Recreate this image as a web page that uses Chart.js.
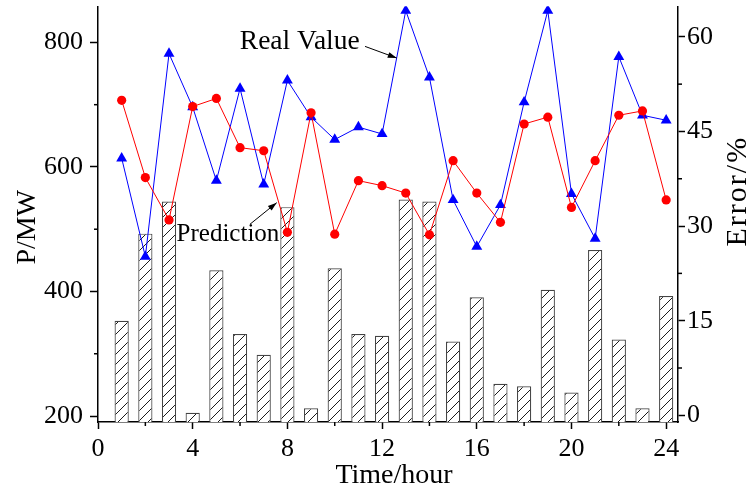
<!DOCTYPE html>
<html>
<head>
<meta charset="utf-8">
<script src="https://cdn.jsdelivr.net/npm/chart.js@4.4.0/dist/chart.umd.min.js"></script>
<style>
  html, body { margin: 0; padding: 0; background: #fff; }
  #wrap { width: 749px; height: 490px; }
</style>
</head>
<body>
<div id="wrap"><canvas id="grafico" width="749" height="490"></canvas></div>
<script>
// Datos (hora 1..24)
const HORAS = [1, 2, 3, 4, 5, 6, 7, 8, 9, 10, 11, 12, 13, 14, 15, 16, 17, 18, 19, 20, 21, 22, 23, 24];
const VALOR_REAL = [614, 456, 782, 696, 578, 726, 572, 739, 680, 644, 664, 653, 851, 744, 547, 472, 539, 704, 851, 557, 485, 777, 683, 675];
const PREDICCION = [707, 583, 515, 697, 710, 631, 626, 495, 687, 492, 578, 570, 558, 491, 610, 558, 511, 669, 680, 535, 610, 683, 690, 547];
const ERROR_PCT = [15.0, 28.8, 33.9, 0.4, 23.0, 12.9, 9.6, 33.0, 1.1, 23.3, 12.9, 12.6, 34.2, 33.9, 11.7, 18.7, 5.0, 4.6, 19.9, 3.6, 26.2, 12.0, 1.1, 18.9];

// Rangos de los ejes
const X_MIN = 0, X_MAX = 24.5;
const P_MIN = 190.4, P_MAX = 858;
const E_MIN = -1.06, E_MAX = 64.84;

// Textos
const TITULO_X = 'Time/hour';
const TITULO_Y = 'P/MW';
const TITULO_Y1 = 'Error/%';

const FUENTE = 'Liberation Serif, Times New Roman, serif';

// Flechas con texto, en unidades de datos (eje x / eje P)
const NOTAS = [
  { texto: 'Real Value', tam: 27.5, tx: 5.99, ty: 789.9, desde: [11.28, 793.6], hasta: [12.62, 774.9] },
  { texto: 'Prediction', tam: 25, tx: 3.32, ty: 481.3, desde: [6.42, 508], hasta: [7.55, 542.7] }
];

function crearRayado() {
  const c = document.createElement('canvas');
  c.width = 10; c.height = 10;
  const g = c.getContext('2d');
  g.fillStyle = '#fff';
  g.fillRect(0, 0, 10, 10);
  g.strokeStyle = '#000';
  g.lineWidth = 0.9;
  g.beginPath();
  g.moveTo(0, 10); g.lineTo(10, 0);
  g.moveTo(-5, 5); g.lineTo(5, -5);
  g.moveTo(5, 15); g.lineTo(15, 5);
  g.stroke();
  return g.createPattern(c, 'repeat');
}

const aPuntos = serie => HORAS.map((h, i) => ({ x: h, y: serie[i] }));

function linea(ctx, x1, y1, x2, y2) {
  ctx.beginPath();
  ctx.moveTo(x1, y1);
  ctx.lineTo(x2, y2);
  ctx.stroke();
}

function flecha(ctx, x1, y1, x2, y2) {
  linea(ctx, x1, y1, x2, y2);
  const ang = Math.atan2(y2 - y1, x2 - x1);
  const largo = 9, ancho = 3;
  ctx.beginPath();
  ctx.moveTo(x2, y2);
  ctx.lineTo(x2 - largo * Math.cos(ang) + ancho * Math.sin(ang), y2 - largo * Math.sin(ang) - ancho * Math.cos(ang));
  ctx.lineTo(x2 - largo * Math.cos(ang) - ancho * Math.sin(ang), y2 - largo * Math.sin(ang) + ancho * Math.cos(ang));
  ctx.closePath();
  ctx.fill();
}

// Ticks menores, titulos y anotaciones
const extras = {
  id: 'extras',
  afterDraw(chart) {
    const { ctx, chartArea: area } = chart;
    const { x, y, y1 } = chart.scales;
    ctx.save();
    ctx.strokeStyle = '#000';
    ctx.fillStyle = '#000';
    ctx.lineWidth = 1.5;

    x.ticks.forEach(t => {
      if (t.value % 4 !== 0) {
        const px = x.getPixelForValue(t.value);
        linea(ctx, px, area.bottom, px, area.bottom + 4);
      }
    });
    y.ticks.forEach(t => {
      if (t.value % 200 !== 0) {
        const py = y.getPixelForValue(t.value);
        linea(ctx, area.left - 4, py, area.left, py);
      }
    });
    y1.ticks.forEach(t => {
      if (t.value % 15 !== 0) {
        const py = y1.getPixelForValue(t.value);
        linea(ctx, area.right, py, area.right + 4, py);
      }
    });

    // titulos de ejes
    ctx.font = '28px ' + FUENTE;
    ctx.textAlign = 'center';
    ctx.textBaseline = 'alphabetic';
    ctx.fillText(TITULO_X, (area.left + area.right) / 2 + 6, area.bottom + 61);

    ctx.save();
    ctx.translate(area.left - 63, (area.top + area.bottom) / 2 + 13);
    ctx.rotate(-Math.PI / 2);
    ctx.fillText(TITULO_Y, 0, 0);
    ctx.restore();

    ctx.save();
    ctx.font = '30px ' + FUENTE;
    ctx.translate(area.right + 68, (area.top + area.bottom) / 2 - 23);
    ctx.rotate(-Math.PI / 2);
    ctx.letterSpacing = '2px';
    ctx.fillText(TITULO_Y1, 0, 0);
    ctx.restore();

    // anotaciones
    ctx.textAlign = 'left';
    ctx.lineWidth = 1;
    NOTAS.forEach(n => {
      ctx.font = n.tam + 'px ' + FUENTE;
      ctx.fillText(n.texto, x.getPixelForValue(n.tx), y.getPixelForValue(n.ty));
      flecha(ctx,
        x.getPixelForValue(n.desde[0]), y.getPixelForValue(n.desde[1]),
        x.getPixelForValue(n.hasta[0]), y.getPixelForValue(n.hasta[1]));
    });
    ctx.restore();
  }
};

const fuenteTicks = { family: FUENTE, size: 26 };

const ajustarVertical = ancho => s => {
  s.width = ancho;
  s.paddingTop = 0;
  s.paddingBottom = 0;
};

new Chart(document.getElementById('grafico').getContext('2d'), {
  type: 'bar',
  data: {
    datasets: [
      {
        type: 'line',
        label: 'Prediction',
        data: aPuntos(PREDICCION),
        yAxisID: 'y',
        borderColor: '#ff0000',
        backgroundColor: '#ff0000',
        borderWidth: 1,
        pointStyle: 'circle',
        pointRadius: 4.6,
        pointBorderWidth: 0,
        tension: 0,
        order: 0
      },
      {
        type: 'line',
        label: 'Real Value',
        data: aPuntos(VALOR_REAL),
        yAxisID: 'y',
        borderColor: '#0000ff',
        backgroundColor: '#0000ff',
        borderWidth: 1,
        pointStyle: 'triangle',
        pointRadius: 6.3,
        pointBorderWidth: 0,
        tension: 0,
        order: 1
      },
      {
        type: 'bar',
        label: 'Error',
        data: aPuntos(ERROR_PCT),
        yAxisID: 'y1',
        base: E_MIN,
        backgroundColor: crearRayado(),
        borderColor: '#444',
        borderWidth: 1.2,
        barPercentage: 0.6,
        categoryPercentage: 1,
        order: 2
      }
    ]
  },
  options: {
    responsive: false,
    animation: false,
    layout: { padding: { top: 5, left: 0, right: 0, bottom: 0 } },
    plugins: {
      legend: { display: false },
      tooltip: { enabled: false }
    },
    scales: {
      x: {
        type: 'linear',
        offset: false,
        min: X_MIN,
        max: X_MAX,
        afterFit: s => { s.height = 68; s.paddingLeft = 0; s.paddingRight = 0; },
        ticks: {
          stepSize: 2,
          includeBounds: false,
          autoSkip: false,
          maxRotation: 0,
          padding: 5,
          color: '#000',
          font: fuenteTicks,
          callback: v => (v % 4 === 0 ? v : '')
        },
        grid: {
          offset: false,
          drawOnChartArea: false,
          tickLength: 7,
          tickWidth: 1.5,
          tickColor: c => (c.tick && c.tick.value % 4 === 0 ? '#000' : 'rgba(0,0,0,0)')
        },
        border: { color: '#000', width: 1.5 }
      },
      y: {
        type: 'linear',
        position: 'left',
        min: P_MIN,
        max: P_MAX,
        afterFit: ajustarVertical(98),
        ticks: {
          stepSize: 100,
          includeBounds: false,
          padding: 7,
          color: '#000',
          font: fuenteTicks,
          callback: v => (v % 200 === 0 ? v : '')
        },
        grid: {
          drawOnChartArea: false,
          tickLength: 8,
          tickWidth: 1.5,
          tickColor: c => (c.tick && c.tick.value % 200 === 0 ? '#000' : 'rgba(0,0,0,0)')
        },
        border: { color: '#000', width: 1.5 }
      },
      y1: {
        type: 'linear',
        position: 'right',
        min: E_MIN,
        max: E_MAX,
        afterFit: ajustarVertical(71),
        ticks: {
          stepSize: 7.5,
          includeBounds: false,
          padding: 2,
          color: '#000',
          font: fuenteTicks,
          callback: v => (v % 15 === 0 ? v : '')
        },
        grid: {
          drawOnChartArea: false,
          tickLength: 7,
          tickWidth: 1.5,
          tickColor: c => (c.tick && c.tick.value % 15 === 0 ? '#000' : 'rgba(0,0,0,0)')
        },
        border: { color: '#000', width: 1.5 }
      }
    }
  },
  plugins: [extras]
});
</script>
</body>
</html>
